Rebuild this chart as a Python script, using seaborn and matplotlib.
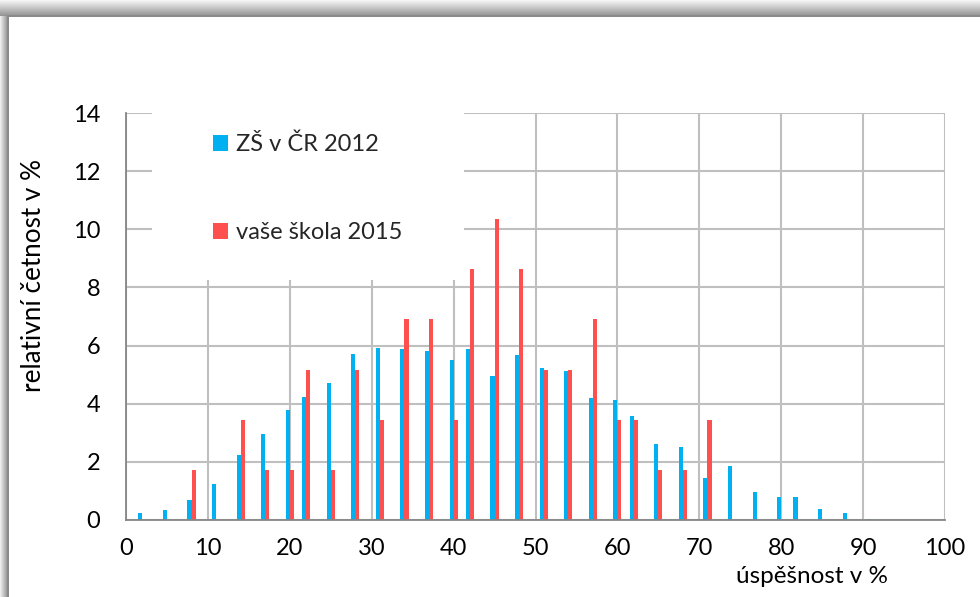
import numpy as np
import pandas as pd
import seaborn as sns
import matplotlib.pyplot as plt
from matplotlib.patches import Rectangle

# ---- data ----
positions = [2, 5, 8, 11, 14, 17, 20, 22, 25, 28, 31, 34, 37, 40, 42, 45, 48,
             51, 54, 57, 60, 62, 65, 68, 71, 74, 77, 80, 82, 85, 88, 91, 94]
cr2012 = [0.24, 0.33, 0.69, 1.23, 2.23, 2.97, 3.78, 4.23, 4.71, 5.70, 5.93,
          5.87, 5.80, 5.50, 5.87, 4.96, 5.69, 5.22, 5.11, 4.18, 4.13, 3.57,
          2.63, 2.50, 1.45, 1.85, 0.97, 0.80, 0.80, 0.38, 0.25, 0.03, 0.01]
school2015 = [0, 0, 1.72, 0, 3.45, 1.72, 1.72, 5.17, 1.72, 5.17, 3.45,
              6.90, 6.90, 3.45, 8.62, 10.34, 8.62, 5.17, 5.17, 6.90, 3.45, 3.45,
              1.72, 1.72, 3.45, 0, 0, 0, 0, 0, 0, 0, 0]
series_names = ["ZŠ v ČR 2012", "vaše škola 2015"]
colors = ["#00B0F0", "#FF5050"]
xticks = list(range(0, 101, 10))
yticks = list(range(0, 15, 2))
xlabel = "úspěšnost v %"
ylabel = "relativní četnost v %"

df = pd.DataFrame({
    "x": positions * 2,
    "y": cr2012 + school2015,
    "series": [series_names[0]] * len(positions) + [series_names[1]] * len(positions),
})

sns.set_theme(style="white")
plt.rcParams['font.family'] = ['Lato', 'DejaVu Sans']

W, H = 980, 597
fig = plt.figure(figsize=(W / 100, H / 100), dpi=100)

# ---- outer frame with shadow ----
for i in range(16):
    g = 0.96 - 0.38 * (i / 15)
    fig.add_artist(Rectangle((0, 1 - (i + 1) / H), 1, 1 / H, transform=fig.transFigure,
                             facecolor=(g, g, g), edgecolor='none', zorder=-5))
for i in range(7):
    g = 0.93 - 0.3 * (i / 6)
    fig.add_artist(Rectangle((i / W, 0), 1 / W, 1 - 16 / H, transform=fig.transFigure,
                             facecolor=(g, g, g), edgecolor='none', zorder=-5))
fig.add_artist(Rectangle((7 / W, 0), 2 / W, 1 - 15 / H, transform=fig.transFigure,
                         facecolor='#8a8a8a', edgecolor='none', zorder=-4))
fig.add_artist(Rectangle((7 / W, 1 - 17 / H), 1, 2 / H, transform=fig.transFigure,
                         facecolor='#8a8a8a', edgecolor='none', zorder=-4))

ax = fig.add_axes([126 / W, 1 - 520 / H, 819 / W, 407 / H])
ax.patch.set_alpha(0)

sns.barplot(data=df, x="x", y="y", hue="series", native_scale=True, width=0.5,
            palette=colors, saturation=1, errorbar=None, linewidth=0,
            ax=ax, zorder=2)

ax.set_xlim(0, 100)
ax.set_ylim(0, 14)
ax.set_xticks(xticks)
ax.set_yticks(yticks)
ax.set_xticklabels([str(t) for t in xticks])
ax.set_yticklabels([str(t) for t in yticks])

ax.grid(True, color='#BFBFBF', lw=1.5)
ax.set_axisbelow(True)
for s in ['top', 'right']:
    ax.spines[s].set_visible(False)
for s in ['left', 'bottom']:
    ax.spines[s].set_color('#868686')
    ax.spines[s].set_linewidth(1.3)

ax.tick_params(axis='y', direction='out', length=7.5, width=1.3, color='#868686',
               labelsize=17, labelcolor='black', pad=11)
ax.tick_params(axis='x', direction='out', length=5, width=1.3, color='#868686',
               labelsize=17, labelcolor='black', pad=8)

# white legend area hiding gridlines
ax.add_patch(Rectangle((0.032, 0.59), 0.381, 0.43, transform=ax.transAxes,
                       facecolor='white', edgecolor='none', zorder=1, clip_on=False))

leg = ax.get_legend()
if leg is not None:
    leg.remove()
handles = [Rectangle((0, 0), 1, 1, facecolor=c, edgecolor='none') for c in colors]
ax.legend(handles, series_names, loc='center left', bbox_to_anchor=(0.106, 0.8145),
          frameon=False, borderpad=0, borderaxespad=0, handlelength=0.65,
          handleheight=0.65, handletextpad=0.35, labelspacing=2.85, fontsize=17)

ax.set_xlabel(xlabel, fontsize=17.5, ha='right', color='black')
ax.xaxis.set_label_coords(0.930, -0.113)
ax.set_ylabel(ylabel, fontsize=18.8, color='black')
ax.yaxis.set_label_coords(-0.098, 0.600)

fig.savefig("out.png", dpi=100)
